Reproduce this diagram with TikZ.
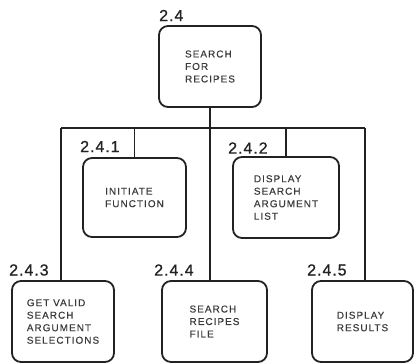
\documentclass[tikz,border=0pt]{standalone}
\usepackage{fontspec}
\setmainfont{Liberation Sans}
\newfontfamily\labelfont[LetterSpace=6,FakeBold=0.8]{Liberation Sans}
\newfontfamily\boxfont[LetterSpace=10,FakeBold=0.3]{Liberation Sans}
\definecolor{ink}{HTML}{222222}
\definecolor{txt}{HTML}{3A3A3A}
\begin{document}
\begin{tikzpicture}[x=1pt,y=-1pt,
  proc/.style={draw=ink, line width=1.8pt, rounded corners=9pt, align=left,
    text=txt, font=\boxfont\fontsize{10}{12.5}\selectfont, inner sep=0pt},
  num/.style={anchor=west, inner sep=0pt, text=ink, font=\labelfont\fontsize{16}{16}\selectfont},
  conn/.style={draw=ink, line width=1.5pt}]
\useasboundingbox (0,0) rectangle (415,364);
% boxes
\node[proc, minimum width=102pt, minimum height=81pt] (top) at (210,66.5) {SEARCH\\FOR\\RECIPES};
\node[proc, minimum width=103pt, minimum height=79pt] (n1) at (134.5,197.5) {INITIATE\\FUNCTION};
\node[proc, minimum width=106pt, minimum height=81pt] (n2) at (286,197.5) {DISPLAY\\SEARCH\\ARGUMENT\\LIST};
\node[proc, minimum width=102pt, minimum height=81pt] (n3) at (63,321.5) {GET VALID\\SEARCH\\ARGUMENT\\SELECTIONS};
\node[proc, minimum width=105pt, minimum height=81pt] (n4) at (214.5,321.5) {SEARCH\\RECIPES\\FILE};
\node[proc, minimum width=101pt, minimum height=81pt] (n5) at (362.5,321.5) {DISPLAY\\RESULTS};
% labels
\node[num] (l0) at (159,15.5) {2.4};
\node[num] (l1) at (80,146.5) {2.4.1};
\node[num] (l2) at (228,148) {2.4.2};
\node[num] (l3) at (9,270) {2.4.3};
\node[num] (l4) at (154,270) {2.4.4};
\node[num] (l5) at (307,270) {2.4.5};
% connectors
\coordinate (busL) at (61,128);
\coordinate (busR) at (365,128);
\draw[conn] (busL) -- (busR);
\draw[conn] (top.south) -- (top.south |- n4.north);
\draw[conn] (busL) -- (busL |- n3.north);
\draw[conn] (busR) -- (busR |- n5.north);
\draw[conn] (n1.north) -- (n1.north |- busL);
\draw[conn] (n2.north) -- (n2.north |- busL);
\end{tikzpicture}
\end{document}
